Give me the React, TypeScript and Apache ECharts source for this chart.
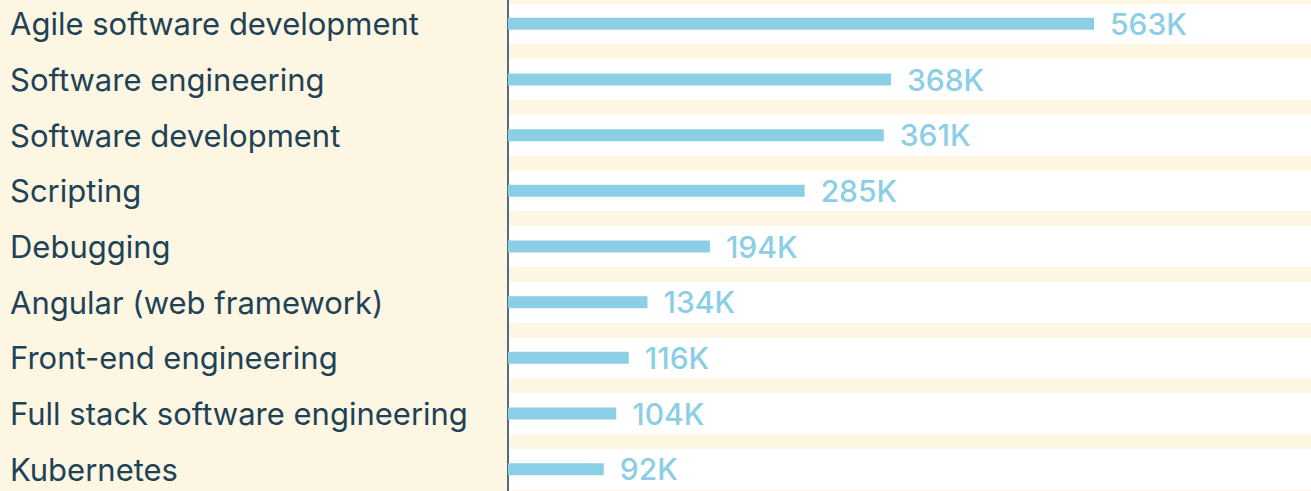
import React, { useEffect, useRef } from "react";
import * as echarts from "echarts";

const categories = [
  "Agile software development",
  "Software engineering",
  "Software development",
  "Scripting",
  "Debugging",
  "Angular (web framework)",
  "Front-end engineering",
  "Full stack software engineering",
  "Kubernetes",
];
const values = [563000, 368000, 361000, 285000, 194000, 134000, 116000, 104000, 92000];
const axisMax = 771500;

const CREAM = "#fdf6e3";
const BAR = "#8bcee5";
const TEXT = "#1f4356";
const FONT = "Inter, 'Open Sans', sans-serif";

export default function App() {
  const ref = useRef<HTMLDivElement>(null);
  useEffect(() => {
    if (!ref.current) return;
    const chart = echarts.init(ref.current, null, { renderer: "svg" });
    chart.setOption({
      animation: false,
      backgroundColor: CREAM,
      grid: {
        left: 508,
        right: 0,
        top: 0,
        bottom: 0,
        show: true,
        backgroundColor: "#ffffff",
        borderWidth: 0,
        containLabel: false,
      },
      xAxis: {
        type: "value",
        min: 0,
        max: axisMax,
        show: false,
      },
      yAxis: {
        type: "category",
        data: categories,
        inverse: true,
        axisTick: { show: false },
        axisLine: { show: true, lineStyle: { color: "#4f6d7c", width: 2 } },
        splitLine: { show: true, lineStyle: { color: CREAM, width: 15 } },
        axisLabel: {
          align: "left",
          margin: 498,
          color: TEXT,
          fontSize: 31,
          fontFamily: FONT,
        },
      },
      series: [
        {
          type: "bar",
          data: values,
          barWidth: 12,
          itemStyle: { color: BAR },
          label: {
            show: true,
            position: "right",
            distance: 16,
            color: BAR,
            fontSize: 30,
            fontWeight: 500,
            fontFamily: FONT,
            formatter: (p: any) => Math.round(p.value / 1000) + "K",
          },
        },
      ],
    });
    return () => chart.dispose();
  }, []);
  return (
    <div
      ref={ref}
      style={{ position: "fixed", left: 0, top: -3.8, width: 1311, height: 500.6 }}
    />
  );
}
